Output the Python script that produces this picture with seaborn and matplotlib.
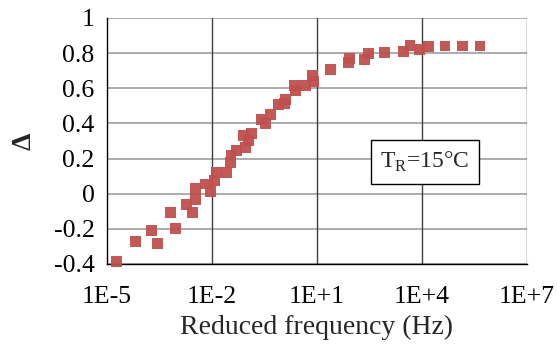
import numpy as np
import pandas as pd
import matplotlib
matplotlib.use('Agg')
import matplotlib.pyplot as plt
import matplotlib.ticker as mticker
import seaborn as sns

# reduced frequency (Hz) and Delta
freq = [1.9e-5, 6.6e-5, 1.9e-4, 2.8e-4, 6.5e-4, 9.1e-4, 1.9e-3, 2.8e-3,
        3.4e-3, 3.3e-3, 6.5e-3, 8.9e-3, 1.17e-2, 1.35e-2, 2.6e-2, 3.4e-2,
        3.5e-2, 4.9e-2, 7.9e-2, 8.9e-2, 0.11, 0.135, 0.26, 0.34, 0.46, 0.78,
        1.17, 1.29, 2.3, 2.5, 4.8, 7.6, 7.8, 24.5, 79, 87, 234, 295, 870,
        2950, 4570, 8700, 15100, 45700, 144500, 457000]
delta = [-0.385, -0.271, -0.208, -0.282, -0.108, -0.199, -0.061, -0.106,
         -0.034, 0.027, 0.055, 0.011, 0.074, 0.121, 0.121, 0.178,
         0.215, 0.246, 0.33, 0.265, 0.30, 0.341, 0.42, 0.398, 0.453, 0.506,
         0.515, 0.538, 0.614, 0.587, 0.614, 0.67, 0.638, 0.705, 0.748, 0.771,
         0.765, 0.795, 0.803, 0.809, 0.843, 0.818, 0.835, 0.84, 0.84, 0.84]

xticks = [1e-5, 1e-2, 1e1, 1e4, 1e7]
xticklabels = ['1E-5', '1E-2', '1E+1', '1E+4', '1E+7']
yticks = [-0.4, -0.2, 0, 0.2, 0.4, 0.6, 0.8, 1]
yticklabels = ['-0.4', '-0.2', '0', '0.2', '0.4', '0.6', '0.8', '1']

df = pd.DataFrame({'freq': freq, 'delta': delta})

sns.set_style('white')
plt.rcParams['font.family'] = ['Liberation Serif', 'DejaVu Serif']
plt.rcParams['mathtext.fontset'] = 'custom'
plt.rcParams['mathtext.rm'] = 'Liberation Serif'

fig = plt.figure(figsize=(5.57, 3.51), dpi=100)
ax = fig.add_axes([0.192, 0.248, 0.754, 0.701])

ax.set_xscale('log')
ax.set_xlim(1e-5, 1e7)
ax.set_ylim(-0.4, 1)

# grid: light horizontal, dark vertical
for y in yticks:
    ax.axhline(y, color='#A6A6A6', lw=1.3, zorder=0)
for x in xticks[1:]:
    ax.axvline(x, color='#404040', lw=1.0, zorder=0)

sns.scatterplot(data=df, x='freq', y='delta', marker='s', s=62,
                color='#C0504D', edgecolor='none', alpha=0.95, ax=ax, zorder=3,
                clip_on=False)

ax.xaxis.set_major_locator(mticker.FixedLocator(xticks))
ax.xaxis.set_minor_locator(mticker.NullLocator())
ax.set_xticklabels(xticklabels)
ax.set_yticks(yticks)
ax.set_yticklabels(yticklabels)
ax.tick_params(axis='both', direction='out', length=5, width=0.8,
               colors='black', labelsize=18.5, pad=4)
ax.tick_params(axis='x', pad=11)

for side in ['top', 'right']:
    ax.spines[side].set_visible(False)
for side in ['left', 'bottom']:
    ax.spines[side].set_color('black')
    ax.spines[side].set_linewidth(1.0)

ax.set_xlabel('Reduced frequency (Hz)', fontsize=20, labelpad=5)
ax.set_ylabel('Δ', fontsize=20, fontweight='bold', labelpad=12)

ax.text(1.2e4, 0.18, r'T$_\mathrm{R}$=15°C', fontsize=17, ha='center', va='center',
        bbox=dict(boxstyle='square,pad=0.4', fc='white', ec='black', lw=1.0), zorder=5)

fig.savefig('out.png', dpi=100)
